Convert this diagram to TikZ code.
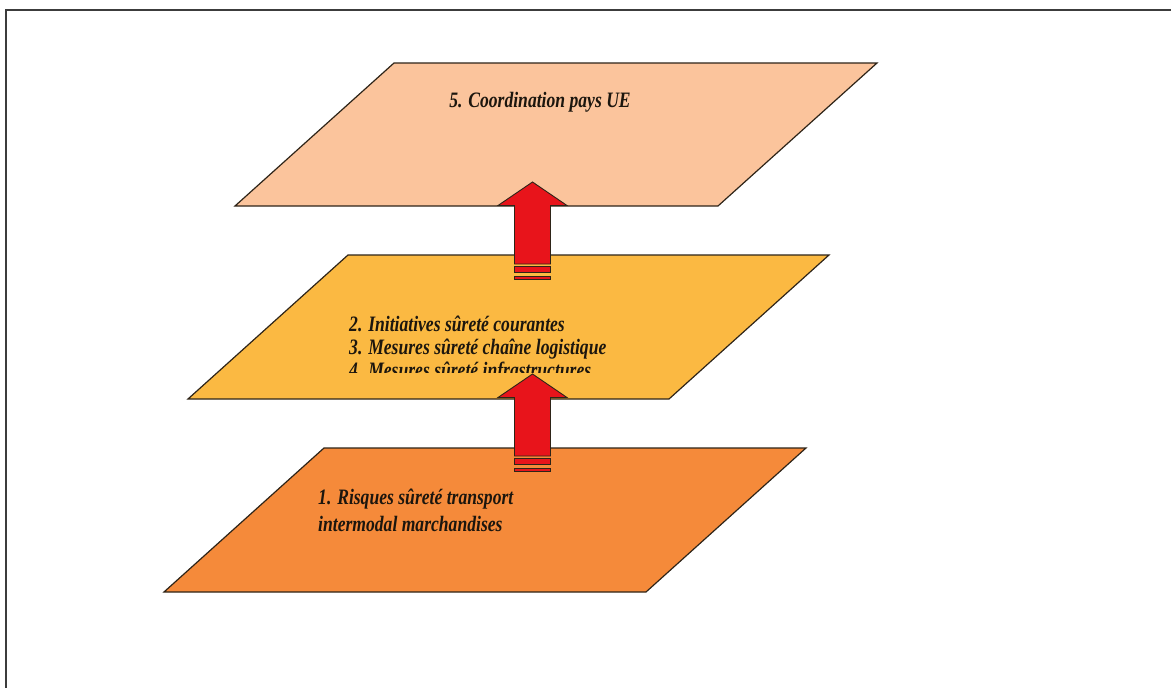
\documentclass[tikz,border=0pt]{standalone}
\usepackage{fontspec}
\setmainfont[FakeStretch=0.80]{Liberation Serif}
\begin{document}
\begin{tikzpicture}[x=1pt,y=-1pt]
  \definecolor{frameGray}{HTML}{3C3C3C}
  \definecolor{layerTop}{HTML}{FBC49C}
  \definecolor{layerMid}{HTML}{FBB942}
  \definecolor{layerLow}{HTML}{F58A3A}
  \definecolor{arrowRed}{HTML}{E8141B}
  \definecolor{edgeDark}{HTML}{2E2418}
  \tikzset{
    layer/.style={draw=edgeDark, line width=1.2pt, line join=miter},
    label/.style={font=\fontsize{22}{24}\selectfont\bfseries\itshape, text=edgeDark!60!black, inner sep=0pt},
    uparrow/.pic={
      % head and shaft, origin at the tip
      \filldraw[fill=arrowRed, draw=edgeDark, line width=0.9pt, line join=miter]
        (0,0) -- (34.5,23.5) -- (18,23.5) -- (18,82) -- (-18,82) -- (-18,23.5) -- (-34.5,23.5) -- cycle;
      % two stripes under the shaft
      \filldraw[fill=arrowRed, draw=edgeDark, line width=0.9pt] (-18,84.5) rectangle (18,90);
      \filldraw[fill=arrowRed, draw=edgeDark, line width=0.9pt] (-18,94) rectangle (18,97.5);
    }
  }
  \useasboundingbox (0,0) rectangle (1171,688);
  \fill[white] (0,0) rectangle (1171,688);

  % outer frame (only its top and left sides fall inside the page)
  \coordinate (fBL) at (6,690);
  \coordinate (fTL) at (6,10);
  \coordinate (fTR) at (1173,10);
  \draw[frameGray, line width=1.3pt] (fBL) -- (fTL) -- (fTR);

  % lowest layer
  \filldraw[layer, fill=layerLow] (324,448) -- (806,448) -- (646,592) -- (164,592) -- cycle;
  \node[label, anchor=base west] (r1) at (318,504) {1. Risques sûreté transport};
  \node[label, anchor=base west] (r2) at (318,531) {intermodal marchandises};

  % middle layer
  \filldraw[layer, fill=layerMid] (348,255) -- (829,255) -- (669,399) -- (188,399) -- cycle;
  \node[label, anchor=base west] (m2) at (349,331) {2. Initiatives sûreté courantes};
  \node[label, anchor=base west] (m3) at (349,354) {3. Mesures sûreté chaîne logistique};
  \begin{scope}
    \clip (300,300) rectangle (800,372);
    \node[label, anchor=base west] (m4) at (349,377) {4. Mesures sûreté infrastructures};
  \end{scope}

  % top layer
  \filldraw[layer, fill=layerTop] (394,63) -- (877,63) -- (718,206) -- (235,206) -- cycle;
  \node[label] (c5) at (540,102) {5. Coordination pays UE};

  % arrows between the layers
  \pic at (532.5,374) {uparrow};
  \pic at (532.5,182) {uparrow};
\end{tikzpicture}
\end{document}
